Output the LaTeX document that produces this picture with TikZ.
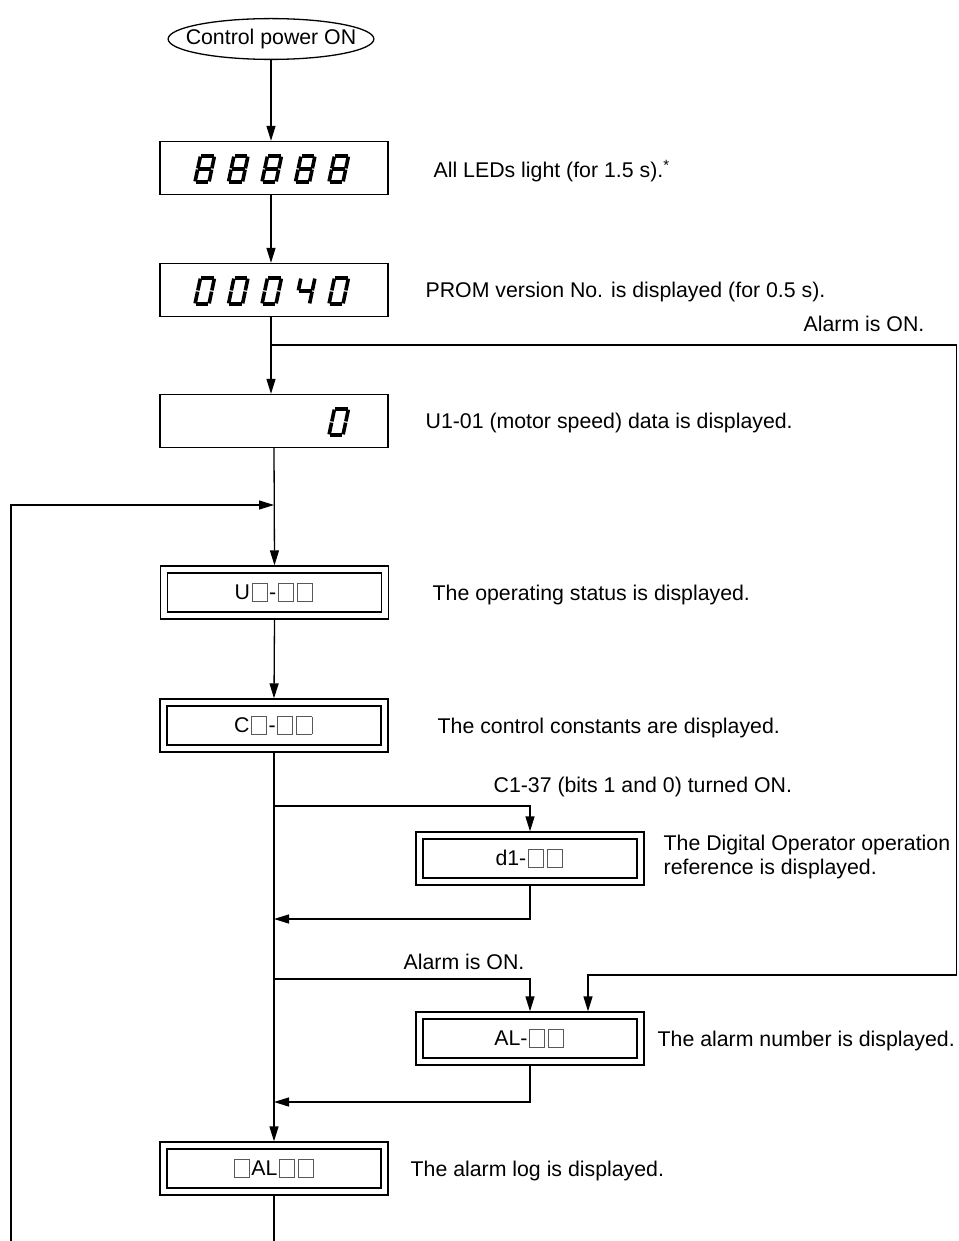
\documentclass[tikz,border=0pt]{standalone}
\usepackage{fontspec}
\setmainfont{Liberation Sans}
\usetikzlibrary{shapes.geometric,arrows.meta}
\newcommand\sqb{\kern1.5pt\raisebox{-0.04em}{\textcolor{black!65}{\fboxsep=0pt\fboxrule=0.8pt\fbox{\rule{0pt}{0.78em}\rule{0.68em}{0pt}}}}\kern1.5pt}
\newcommand\segA{\draw[ledstroke] (0.6,26)--(13.4,26);}
\newcommand\segB{\draw[ledstroke] (14,25.4)--(14,13.6);}
\newcommand\segC{\draw[ledstroke] (14,12.4)--(14,0.6);}
\newcommand\segD{\draw[ledstroke] (0.6,0)--(13.4,0);}
\newcommand\segE{\draw[ledstroke] (0,0.6)--(0,12.4);}
\newcommand\segF{\draw[ledstroke] (0,13.6)--(0,25.4);}
\newcommand\segG{\draw[ledstroke] (0.6,13)--(13.4,13);}
\newcommand\digEight{\segA\segB\segC\segD\segE\segF\segG}
\newcommand\digZero{\segA\segB\segC\segD\segE\segF}
\newcommand\digFour{\segB\segC\segF\segG}
\newcommand\leddigit[3]{\begin{scope}[shift={(#1,#2)},x=1pt,y=1pt,xslant=0.21]#3\end{scope}}
\begin{document}
\begin{tikzpicture}[x=1pt,y=-1pt,line width=1.3pt,
  font=\fontsize{21.3}{24}\selectfont,
  arr/.style={-{Triangle[length=15pt,width=9pt]}},
  ledbox/.style={draw, minimum width=228pt, minimum height=53pt, inner sep=0pt},
  dblbox/.style={draw, double, double distance=5.7pt, minimum width=221pt, minimum height=46pt, inner sep=0pt, outer sep=4.15pt},
  desc/.style={anchor=base west, inner sep=0pt},
  ledstroke/.style={line width=3.6pt, line cap=butt}]
\useasboundingbox (0,0) rectangle (958,1241);

% start oval
\node[draw, ellipse, inner xsep=-12.5pt, inner ysep=4.5pt] (start) at (271,39) {Control power ON};

% LED boxes
\node[ledbox] (b1) at (274,168) {};
\node[ledbox] (b2) at (274,290) {};
\node[ledbox] (b3) at (274,421) {};

\leddigit{195}{182}{\digEight}
\leddigit{228.5}{182}{\digEight}
\leddigit{262}{182}{\digEight}
\leddigit{295.5}{182}{\digEight}
\leddigit{329}{182}{\digEight}

\leddigit{195}{304}{\digZero}
\leddigit{228.5}{304}{\digZero}
\leddigit{262}{304}{\digZero}
\leddigit{295.5}{304}{\digFour}
\leddigit{329}{304}{\digZero}

\leddigit{329}{435}{\digZero}

% double boxes
\node[dblbox] (u) at (274.5,592.5) {U\sqb-\sqb\sqb};
\node[dblbox] (c) at (274,725.5) {C\sqb-\sqb\sqb};
\node[dblbox] (d1) at (530,858.5) {d1-\sqb\sqb};
\node[dblbox] (al) at (530,1038.5) {AL-\sqb\sqb};
\node[dblbox] (log) at (274,1168.5) {\sqb AL\sqb\sqb};

% descriptions
\node[desc] (t1) at (433,177.6) {All LEDs light (for 1.5 s).\textsuperscript{*}};
\node[desc] (t2) at (425,297.6) {PROM version No. is displayed (for 0.5 s).};
\node[desc] (t3) at (425,428.6) {U1-01 (motor speed) data is displayed.};
\node[desc] (t4) at (432,600) {The operating status is displayed.};
\node[desc] (t5) at (437,733) {The control constants are displayed.};
\node[anchor=west, align=left, inner sep=0pt] (t6) at (663,857) {The Digital Operator operation\\reference is displayed.};
\node[desc] (t7) at (657,1046) {The alarm number is displayed.};
\node[desc] (t8) at (410,1176) {The alarm log is displayed.};

% branch labels
\node[anchor=base east, inner sep=0pt] (l1) at (925,331.6) {Alarm is ON.};
\node[desc] (l2) at (493,792.6) {C1-37 (bits 1 and 0) turned ON.};
\node[desc] (l3) at (403,969.6) {Alarm is ON.};

% coordinates
\coordinate (jA) at (271,345);
\coordinate (rA) at (956.5,345);
\coordinate (rB) at (956.5,975);
\coordinate (rC) at (588,975);
\coordinate (jL) at (274,505);
\coordinate (lt) at (11,505);
\coordinate (lb) at (11,1241);
\coordinate (jB) at (274,806);
\coordinate (jC) at (274,919);
\coordinate (jD) at (274,979);
\coordinate (jE) at (274,1102);
\coordinate (bot) at (274,1241);

% connectors
\draw[arr] (start.south) -- (start.south |- b1.north);
\draw[arr] (start.south |- b1.south) -- (start.south |- b2.north);
\draw[arr] (start.south |- b2.south) -- (start.south |- b3.north);
\draw[arr] (jA) -- (rA) -- (rB) -- (rC) -- (rC |- al.north);
\draw[arr] (b3.south) -- (u.north);
\draw[arr] (lb) -- (lt) -- (jL);
\draw[arr] (u.south) -- (c.north);
\draw[arr] (c.south) -- (log.north);
\draw[arr] (jB) -- (jB -| d1.north) -- (d1.north);
\draw[arr] (d1.south) -- (d1.south |- jC) -- (jC);
\draw[arr] (jD) -- (jD -| al.north) -- (al.north);
\draw[arr] (al.south) -- (al.south |- jE) -- (jE);
\draw (log.south) -- (bot);
\end{tikzpicture}
\end{document}
